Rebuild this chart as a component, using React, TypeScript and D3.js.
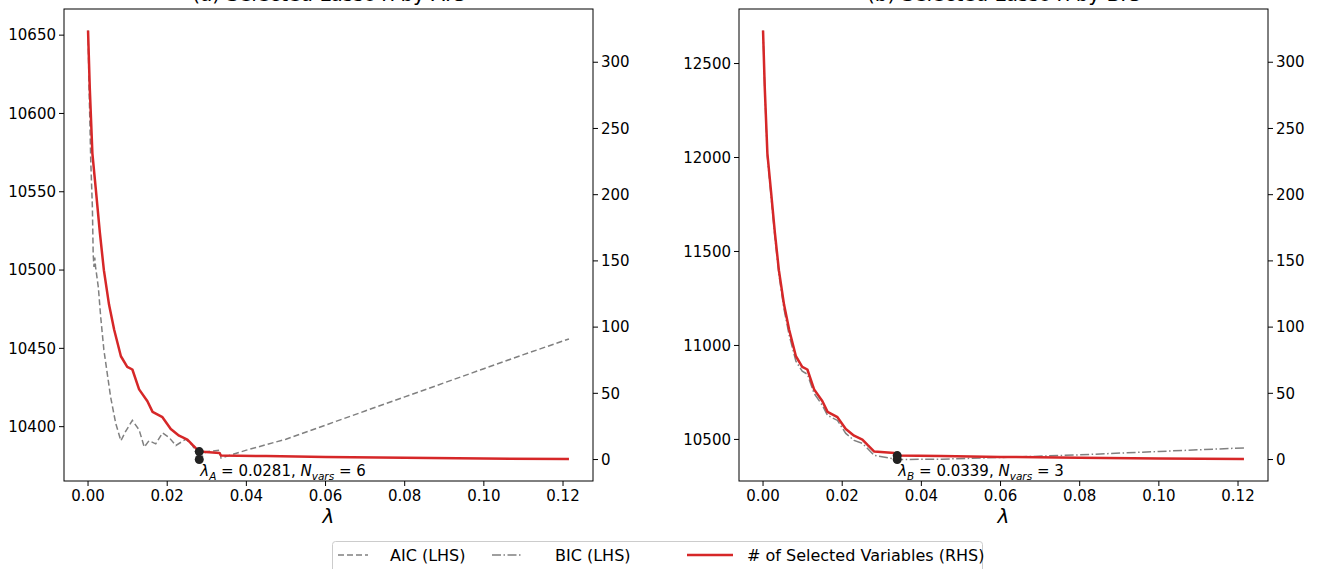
import React from "react";
import * as d3 from "d3";

// lasso path: lambda grid and number of selected variables (same path in both panels)
const lambdaN = [0, 0.00043, 0.0011, 0.0019, 0.003, 0.004, 0.0053, 0.0066, 0.0083, 0.0099, 0.0112, 0.0129, 0.015, 0.0163, 0.0188, 0.0209, 0.023, 0.0251, 0.0264, 0.0281, 0.0332, 0.0336, 0.045, 0.06, 0.08, 0.1, 0.1215];
const nVars = [324, 281, 231, 206, 171, 143, 117, 98, 78, 70, 68, 53, 44, 36, 32, 23, 18, 15, 11, 6, 5, 3, 2.6, 2, 1.3, 0.8, 0.4];

// AIC curve (left panel)
const lambdaAIC = [0, 0.00025, 0.00045, 0.00068, 0.0011, 0.0013, 0.0015, 0.0017, 0.0019, 0.0026, 0.0032, 0.004, 0.0057, 0.007, 0.0083, 0.0095, 0.0112, 0.0129, 0.0142, 0.0154, 0.0171, 0.0188, 0.0205, 0.0222, 0.0247, 0.0264, 0.0281, 0.0298, 0.0332, 0.0336, 0.04, 0.05, 0.06, 0.07, 0.08, 0.09, 0.1, 0.11, 0.1215];
const aic = [10653, 10617, 10596, 10570, 10540, 10510, 10502, 10508, 10502, 10489, 10470, 10449, 10419, 10402, 10391, 10397, 10404, 10398, 10387, 10391, 10389, 10396, 10393, 10388, 10392, 10388, 10379, 10384, 10385, 10380, 10385, 10392, 10401, 10410, 10419, 10428, 10437, 10446, 10456];

// BIC curve (right panel)
const lambdaBIC = [0, 0.00043, 0.0011, 0.0019, 0.003, 0.004, 0.0053, 0.0066, 0.0083, 0.0099, 0.0112, 0.0129, 0.015, 0.0163, 0.0188, 0.0209, 0.023, 0.0251, 0.0264, 0.0281, 0.0339, 0.045, 0.06, 0.08, 0.1, 0.1215];
const bic = [12676, 12361, 12004, 11823, 11577, 11380, 11193, 11055, 10916, 10863, 10847, 10745, 10681, 10628, 10601, 10532, 10495, 10479, 10452, 10415, 10393, 10395, 10404, 10418, 10436, 10455];

const xTicks = [0, 0.02, 0.04, 0.06, 0.08, 0.1, 0.12];
const aicTicks = [10400, 10450, 10500, 10550, 10600, 10650];
const bicTicks = [10500, 11000, 11500, 12000, 12500];
const nTicks = [0, 50, 100, 150, 200, 250, 300];

const RED = "#d62728";
const GRAY = "#808080";
const FONT = "DejaVu Sans";

// matplotlib style 5% margins
function padded(vals: number[]) {
  const [lo, hi] = d3.extent(vals) as [number, number];
  const m = (hi - lo) * 0.05;
  return [lo - m, hi + m];
}

const TOP = 9, BOTTOM = 481;

function Panel(props: any) {
  const { left, right, lam, crit, critTicks, dash, title, sel, selName, id } = props;
  const x = d3.scaleLinear().domain(padded(lambdaN)).range([left, right]);
  const yL = d3.scaleLinear().domain(padded(crit)).range([BOTTOM, TOP]);
  const yR = d3.scaleLinear().domain([-16.2, 340.2]).range([BOTTOM, TOP]);

  const critLine = d3.line<number>().x((d, i) => x(lam[i])).y(d => yL(d));
  const nLine = d3.line<number>().x((d, i) => x(lambdaN[i])).y(d => yR(d));

  const selIdx = lam.indexOf(sel.lambda);
  const selCrit = crit[selIdx];

  return (
    <g>
      <defs>
        <clipPath id={"clip" + id}>
          <rect x={left} y={TOP} width={right - left} height={BOTTOM - TOP} />
        </clipPath>
      </defs>
      {/* title sits mostly above the page edge, as in the source image */}
      <text x={(left + right) / 2} y={1} textAnchor="middle" fontSize={20} fontFamily={FONT}>{title}</text>
      <g clipPath={`url(#clip${id})`}>
        <path d={critLine(crit) || ""} fill="none" stroke={GRAY} strokeWidth={1.5} strokeDasharray={dash} />
        <path d={nLine(nVars) || ""} fill="none" stroke={RED} strokeWidth={2.5} strokeLinejoin="round" />
      </g>
      <circle cx={x(sel.lambda)} cy={yL(selCrit)} r={4.5} fill="#222" />
      <circle cx={x(sel.lambda)} cy={yR(sel.n)} r={4.5} fill="#222" />
      <text x={x(sel.lambda) + 1} y={476} fontSize={15} fontFamily={FONT}>
        <tspan fontStyle="italic">λ</tspan>
        <tspan fontSize={10.5} dy={4} fontStyle="italic">{selName}</tspan>
        <tspan dy={-4}>{" = " + sel.lambda.toFixed(4) + ", "}</tspan>
        <tspan fontStyle="italic">N</tspan>
        <tspan fontSize={10.5} dy={4} fontStyle="italic">vars</tspan>
        <tspan dy={-4}>{" = " + sel.n}</tspan>
      </text>
      <rect x={left} y={TOP} width={right - left} height={BOTTOM - TOP} fill="none" stroke="#000" strokeWidth={1} />
      {xTicks.map(t => (
        <g key={"x" + t}>
          <line x1={x(t)} x2={x(t)} y1={BOTTOM} y2={BOTTOM + 5} stroke="#000" />
          <text x={x(t)} y={BOTTOM + 20} textAnchor="middle" fontSize={15} fontFamily={FONT}>{t.toFixed(2)}</text>
        </g>
      ))}
      {critTicks.map((t: number) => (
        <g key={"l" + t}>
          <line x1={left} x2={left - 5} y1={yL(t)} y2={yL(t)} stroke="#000" />
          <text x={left - 8} y={yL(t)} dy="0.35em" textAnchor="end" fontSize={15} fontFamily={FONT}>{t}</text>
        </g>
      ))}
      {nTicks.map(t => (
        <g key={"r" + t}>
          <line x1={right} x2={right + 5} y1={yR(t)} y2={yR(t)} stroke="#000" />
          <text x={right + 8} y={yR(t)} dy="0.35em" fontSize={15} fontFamily={FONT}>{t}</text>
        </g>
      ))}
      <text x={(left + right) / 2} y={523} textAnchor="middle" fontSize={20} fontStyle="italic" fontFamily={FONT}>λ</text>
    </g>
  );
}

export default function App() {
  return (
    <svg width={1320} height={569} style={{ position: "absolute", left: 0, top: 0, background: "#fff" }}>
      <Panel id="a" left={64} right={593} lam={lambdaAIC} crit={aic} critTicks={aicTicks} dash="6,3"
        title="(a) Selected Lasso λ by AIC" sel={{ lambda: 0.0281, n: 6 }} selName="A" />
      <Panel id="b" left={739} right={1268} lam={lambdaBIC} crit={bic} critTicks={bicTicks} dash="9,2.5,1.5,2.5"
        title="(b) Selected Lasso λ by BIC" sel={{ lambda: 0.0339, n: 3 }} selName="B" />
      <g fontFamily={FONT} fontSize={16}>
        <rect x={332.5} y={541.5} width={650} height={40} rx={3} fill="#fff" stroke="#ccc" />
        <line x1={338} x2={368} y1={555} y2={555} stroke={GRAY} strokeWidth={1.5} strokeDasharray="6,3" />
        <text x={390} y={555} dy="0.35em">AIC (LHS)</text>
        <line x1={492} x2={522} y1={555} y2={555} stroke={GRAY} strokeWidth={1.5} strokeDasharray="9,2.5,1.5,2.5" />
        <text x={555} y={555} dy="0.35em">BIC (LHS)</text>
        <line x1={687} x2={733} y1={555} y2={555} stroke={RED} strokeWidth={2.5} />
        <text x={747} y={555} dy="0.35em"># of Selected Variables (RHS)</text>
      </g>
    </svg>
  );
}
